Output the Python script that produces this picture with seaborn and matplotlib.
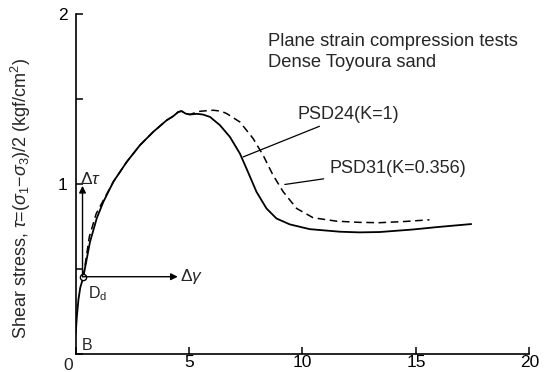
import matplotlib
matplotlib.use("Agg")
import matplotlib.pyplot as plt
import seaborn as sns
import pandas as pd

# ---- data ----
psd24_strain = [0.0, 0.05, 0.12, 0.2, 0.33, 0.63, 0.93, 1.22, 1.66, 2.25, 2.83, 3.42, 4.01, 4.3,
                4.52, 4.67, 4.85, 5.04, 5.33, 5.6, 5.92, 6.36, 6.8, 7.24, 7.53, 7.97, 8.41, 8.85,
                9.44, 10.32, 11.64, 12.5, 13.4, 14.87, 16.0, 17.44]
psd24_tau = [0.12, 0.22, 0.32, 0.39, 0.45, 0.66, 0.80, 0.896, 1.014, 1.131, 1.229, 1.308, 1.376,
             1.40, 1.425, 1.43, 1.415, 1.41, 1.414, 1.41, 1.396, 1.347, 1.278, 1.18, 1.092, 0.955,
             0.857, 0.798, 0.763, 0.735, 0.72, 0.716, 0.718, 0.733, 0.748, 0.765]
psd31_strain = [0.33, 0.6, 0.9, 1.22, 1.66, 2.25, 2.83, 3.42, 4.01, 4.3, 4.52, 4.67, 4.85, 5.04,
                5.25, 5.48, 6.06, 6.4, 6.65, 7.24, 7.82, 8.26, 8.70, 9.15, 9.74, 10.47, 11.5,
                12.5, 13.4, 14.5, 15.6]
psd31_tau = [0.45, 0.69, 0.825, 0.905, 1.014, 1.131, 1.229, 1.308, 1.376, 1.40, 1.425, 1.43, 1.415,
             1.41, 1.42, 1.429, 1.435, 1.43, 1.416, 1.366, 1.269, 1.171, 1.053, 0.955, 0.857,
             0.802, 0.782, 0.775, 0.773, 0.78, 0.79]
x_ticks = [0, 5, 10, 15, 20]
x_tick_labels = ["", "5", "10", "15", "20"]
y_major = [0, 1, 2]
y_major_labels = ["", "1", "2"]
y_minor = [0.5, 1.5]
point_Dd = (0.3, 0.455)
dtau_top = 0.99
dgamma_end = 4.5
label24 = "PSD24(K=1)"
label31 = "PSD31(K=0.356)"
lead24_curve, lead24_text = (7.38, 1.16), (9.8, 1.41)
lead31_curve, lead31_text = (9.22, 0.998), (11.2, 1.095)
title_lines = ["Plane strain compression tests", "Dense Toyoura sand"]

sns.set_theme(style="ticks")
plt.rcParams["font.family"] = ["Liberation Sans", "DejaVu Sans"]
plt.rcParams["mathtext.fontset"] = "custom"
plt.rcParams["mathtext.rm"] = "Liberation Sans"
plt.rcParams["mathtext.it"] = "Liberation Sans:italic"
plt.rcParams["mathtext.sf"] = "Liberation Sans"

fig = plt.figure(figsize=(5.51, 3.72), dpi=100)
ax = fig.add_axes([0.1374, 0.0484, 0.8232, 0.9132])

df24 = pd.DataFrame({"strain": psd24_strain, "tau": psd24_tau})
df31 = pd.DataFrame({"strain": psd31_strain, "tau": psd31_tau})
sns.lineplot(data=df24, x="strain", y="tau", ax=ax, color="black", lw=1.3, sort=False)
sns.lineplot(data=df31, x="strain", y="tau", ax=ax, color="black", lw=1.1, sort=False,
             linestyle=(0, (5, 3)))

ax.set_xlim(0, 20)
ax.set_ylim(0, 2)
sns.despine(ax=ax)
for s in ["left", "bottom"]:
    ax.spines[s].set_linewidth(1.2)
    ax.spines[s].set_color("black")

ax.set_xticks(x_ticks)
ax.set_xticklabels(x_tick_labels)
ax.set_yticks(y_major)
ax.set_yticklabels(y_major_labels)
ax.set_yticks(y_minor, minor=True)
ax.tick_params(axis="both", which="both", direction="in", length=5, width=1.1,
               colors="black", labelsize=12.5, pad=1)
ax.tick_params(axis="y", pad=6)
ax.text(-0.006, -0.012, "0", transform=ax.transAxes, ha="right", va="top", fontsize=12.5)

ax.set_xlabel("")
ax.set_ylabel(r"Shear stress, $\tau$=($\sigma_{1}$$-$$\sigma_{3}$)/2 (kgf/cm$^{2}$)",
              fontsize=13)
ax.yaxis.set_label_coords(-0.094, 0.459)

# D_d point and increment arrows
ax.annotate("", xy=(point_Dd[0], dtau_top), xytext=point_Dd,
            arrowprops=dict(arrowstyle="-|>", color="black", lw=1.0, mutation_scale=10,
                            shrinkA=0, shrinkB=0))
ax.annotate("", xy=(dgamma_end, point_Dd[1]), xytext=point_Dd,
            arrowprops=dict(arrowstyle="-|>", color="black", lw=1.0, mutation_scale=10,
                            shrinkA=0, shrinkB=0))
ax.plot([point_Dd[0]], [point_Dd[1]], marker="o", ms=4.5, mfc="white", mec="black", mew=1.0)
ax.text(point_Dd[0] - 0.12, dtau_top + 0.012, r"$\Delta\tau$", fontsize=12.5, va="baseline")
ax.text(dgamma_end + 0.12, point_Dd[1], r"$\Delta\gamma$", fontsize=12.5, va="center")
ax.text(point_Dd[0] + 0.25, point_Dd[1] - 0.1, r"D$_{\mathrm{d}}$", fontsize=11.5, va="center")
ax.text(0.25, 0.05, "B", fontsize=11.5, va="center")

# leader labels
ax.annotate(label24, xy=lead24_curve, xytext=lead24_text, fontsize=13, va="center", ha="left",
            arrowprops=dict(arrowstyle="-", color="black", lw=0.9, shrinkA=0, shrinkB=0))
ax.annotate(label31, xy=lead31_curve, xytext=lead31_text, fontsize=13, va="center", ha="left",
            arrowprops=dict(arrowstyle="-", color="black", lw=0.9, shrinkA=2, shrinkB=0))

ax.text(8.5, 1.84, title_lines[0], fontsize=13.2, va="center")
ax.text(8.5, 1.715, title_lines[1], fontsize=13.2, va="center")

fig.savefig("out.png", dpi=100)
